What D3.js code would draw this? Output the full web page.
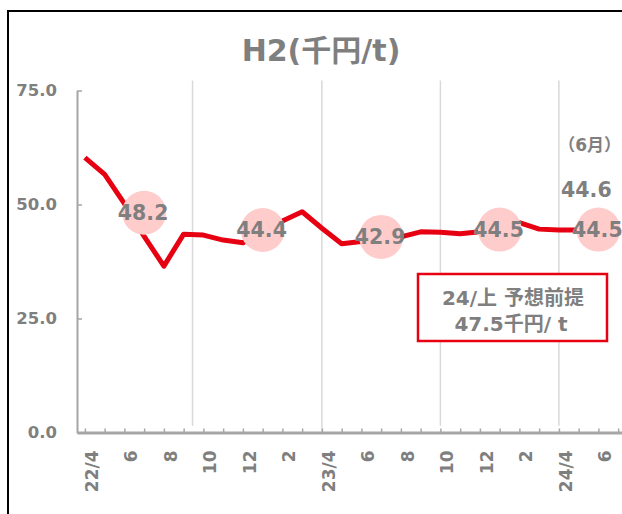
<!DOCTYPE html>
<html>
<head>
<meta charset="utf-8">
<script src="https://cdn.jsdelivr.net/npm/d3@7"></script>
<style>
  body { margin: 0; background: #fff; }
  svg { display: block; font-family: "DejaVu Sans", "Noto Sans CJK JP", sans-serif; font-weight: bold; }
</style>
</head>
<body>
<svg id="chart" width="622" height="514"></svg>
<script>
// monthly H2 price, 22/4 .. 24/6
const months = ['22/4','22/5','22/6','22/7','22/8','22/9','22/10','22/11','22/12','23/1','23/2','23/3',
  '23/4','23/5','23/6','23/7','23/8','23/9','23/10','23/11','23/12','24/1','24/2','24/3','24/4','24/5','24/6'];
const prices = [60.3, 56.6, 50.2, 43.0, 36.5, 43.5, 43.3, 42.2, 41.6, 44.5, 46.4, 48.4,
  44.8, 41.4, 41.9, 42.4, 42.9, 44.0, 43.9, 43.6, 44.0, 44.9, 46.0, 44.6, 44.4, 44.4, 44.6];

// half-year averages (bubbles)
const avgIdx = [3, 9, 15, 21, 26];
const avgVals = [48.2, 44.4, 42.9, 44.5, 44.5];

// x tick labels (every 2 months)
const labelIdx = [0, 2, 4, 6, 8, 10, 12, 14, 16, 18, 20, 22, 24, 26];
const labelText = ['22/4','6','8','10','12','2','23/4','6','8','10','12','2','24/4','6'];

const yTicks = [0, 25, 50, 75];
const sepIdx = [5.45, 12, 18, 24];

const grey = '#7f7f7f';
const red = '#e60012';

const svg = d3.select('#chart');

// outer frame
svg.append('rect')
  .attr('x', 8).attr('y', 11)
  .attr('width', 700).attr('height', 600)
  .attr('fill', 'none').attr('stroke', '#000').attr('stroke-width', 2);

const x = d3.scaleLinear().domain([-0.4, 27.6]).range([77, 630]);
const y = d3.scaleLinear().domain([0, 75]).range([432.5, 90.5]);

svg.append('text')
  .attr('x', 321).attr('y', 61)
  .attr('text-anchor', 'middle')
  .attr('fill', grey)
  .attr('font-size', 30)
  .text('H2(千円/t)');

// separators between half-years
svg.selectAll('line.sep').data(sepIdx).enter().append('line')
  .attr('class', 'sep')
  .attr('x1', d => x(d)).attr('x2', d => x(d))
  .attr('y1', y(77.2)).attr('y2', d => d === 12 ? y(0) : y(1.5))
  .attr('stroke', '#d9d9d9').attr('stroke-width', 1.5);

// y axis
const yAxis = svg.append('g')
  .attr('transform', `translate(${x(-0.4)},0)`)
  .call(d3.axisLeft(y).tickValues(yTicks).tickSize(-5).tickSizeOuter(0)
    .tickPadding(20).tickFormat(d3.format('.1f')));
yAxis.select('.domain').attr('stroke', '#a6a6a6').attr('stroke-width', 2);
yAxis.selectAll('.tick line').attr('stroke', '#a6a6a6').attr('stroke-width', 1.5);
yAxis.selectAll('.tick text').attr('fill', grey).attr('font-size', 16.5)
  .attr('font-family', '"DejaVu Sans", sans-serif').attr('font-weight', 'bold');

// x axis
const xAxis = svg.append('g')
  .attr('transform', `translate(0,${y(0)})`)
  .call(d3.axisBottom(x).tickValues(d3.range(0, 28)).tickSize(-4).tickSizeOuter(0)
    .tickFormat(d => {
      const k = labelIdx.indexOf(d);
      return k < 0 ? '' : labelText[k];
    }));
xAxis.select('.domain').attr('stroke', '#a6a6a6').attr('stroke-width', 3);
xAxis.selectAll('.tick line').attr('stroke', '#a6a6a6').attr('stroke-width', 1.5);
xAxis.selectAll('.tick text')
  .attr('fill', grey).attr('font-size', 17)
  .attr('font-family', '"DejaVu Sans", sans-serif').attr('font-weight', 'bold')
  .attr('text-anchor', 'end')
  .attr('transform', 'rotate(-90)')
  .attr('x', -18).attr('y', 0)
  .attr('dy', '0.72em');

// price line
const line = d3.line()
  .x((d, i) => x(i))
  .y(d => y(d));

svg.append('path')
  .datum(prices)
  .attr('d', line)
  .attr('fill', 'none')
  .attr('stroke', red)
  .attr('stroke-width', 5)
  .attr('stroke-linejoin', 'round');

// average bubbles
svg.selectAll('circle.avg').data(avgVals).enter().append('circle')
  .attr('class', 'avg')
  .attr('cx', (d, i) => x(avgIdx[i]))
  .attr('cy', d => y(d))
  .attr('r', 22)
  .attr('fill', '#ffcccc');

svg.selectAll('text.avg').data(avgVals).enter().append('text')
  .attr('class', 'avg')
  .attr('x', (d, i) => x(avgIdx[i]) - 1)
  .attr('y', d => y(d))
  .attr('dy', '0.36em')
  .attr('text-anchor', 'middle')
  .attr('fill', grey)
  .attr('font-size', 20.5)
  .text(d => d.toFixed(1));

// June value
const last = prices.length - 1;
svg.append('text')
  .attr('x', 621).attr('y', y(prices[last]) - 78)
  .attr('text-anchor', 'end')
  .attr('fill', grey).attr('font-size', 17)
  .text('（6月）');
svg.append('text')
  .attr('x', x(last) - 12).attr('y', y(prices[last]) - 32)
  .attr('text-anchor', 'middle')
  .attr('fill', grey).attr('font-size', 20.5)
  .text(prices[last].toFixed(1));

// forecast note
const note = svg.append('g').attr('transform', 'translate(418,274)');
note.append('rect')
  .attr('width', 189).attr('height', 67)
  .attr('fill', '#fff').attr('stroke', red).attr('stroke-width', 2.5);
note.append('text')
  .attr('x', 95).attr('y', 31)
  .attr('text-anchor', 'middle').attr('fill', grey).attr('font-size', 20)
  .text('24/上 予想前提');
note.append('text')
  .attr('x', 93).attr('y', 57)
  .attr('text-anchor', 'middle').attr('fill', grey).attr('font-size', 20)
  .text('47.5千円/ t');
</script>
</body>
</html>
